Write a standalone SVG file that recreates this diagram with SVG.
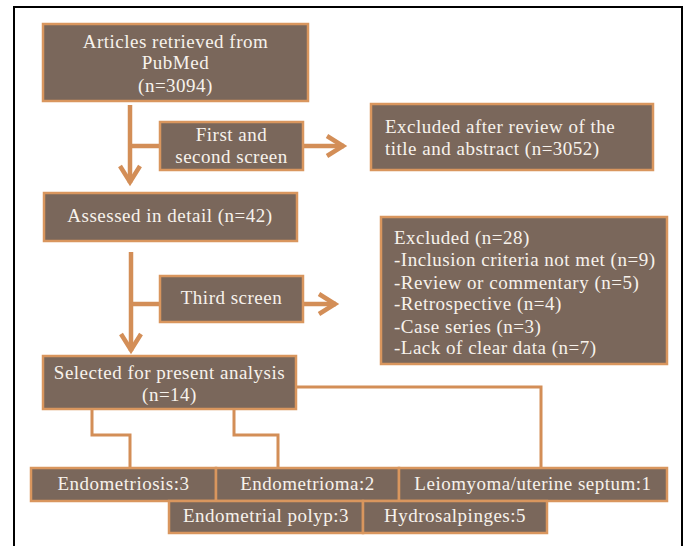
<svg xmlns="http://www.w3.org/2000/svg" width="684" height="546" viewBox="0 0 684 546">
<style>
.box{fill:#7A675B;stroke:#D9965E;stroke-width:2.5}
.t{font-family:"Liberation Serif","Times New Roman",serif;font-size:19px;letter-spacing:0.5px;fill:#F7F2EC}
.c{text-anchor:middle}
.ln{fill:none;stroke:#D38E57;stroke-width:4.5}
.thin{fill:none;stroke:#D38E57;stroke-width:3}
</style>
<defs>
<marker id="chev" viewBox="-20 -12 24 24" markerWidth="24" markerHeight="24" refX="0" refY="0" orient="auto" markerUnits="userSpaceOnUse">
<path d="M-17,-10 L-1,0 L-17,10" fill="none" stroke="#D38E57" stroke-width="4.5"/>
</marker>
</defs>
<rect width="684" height="546" fill="#fff"/>
<path d="M14,548 L14,7 L682,7 L682,548" fill="none" stroke="#000" stroke-width="2"/>
<g id="connectors">
<path class="ln" d="M130,105 L130,183" marker-end="url(#chev)"/>
<path class="ln" d="M130,146 L160,146"/>
<path class="ln" d="M303,146 L344,146" marker-end="url(#chev)"/>
<path class="ln" d="M131,252 L131,351" marker-end="url(#chev)"/>
<path class="ln" d="M131,304 L160,304"/>
<path class="ln" d="M303,304 L336,304" marker-end="url(#chev)"/>
<path class="thin" d="M296,387 L541,387 L541,468"/>
<path class="thin" d="M92,409 L92,435 L130,435 L130,468"/>
<path class="thin" d="M234,409 L234,435 L278,435 L278,468"/>
</g>
<g id="n1"><rect class="box" x="43" y="24" width="265" height="77"/>
<text class="t c" x="175.5" y="48">Articles retrieved from</text>
<text class="t c" x="175.5" y="69">PubMed</text>
<text class="t c" x="175.5" y="92">(n=3094)</text></g>
<g id="n2"><rect class="box" x="160" y="122" width="143" height="48"/>
<text class="t c" x="231.5" y="141">First and</text>
<text class="t c" x="231.5" y="163">second screen</text></g>
<g id="n3"><rect class="box" x="371" y="104" width="282" height="66"/>
<text class="t" x="385" y="133">Excluded after review of the</text>
<text class="t" x="385" y="155">title and abstract (n=3052)</text></g>
<g id="n4"><rect class="box" x="44" y="193" width="253" height="48"/>
<text class="t c" x="170" y="222">Assessed in detail (n=42)</text></g>
<g id="n5"><rect class="box" x="160" y="276" width="143" height="46"/>
<text class="t c" x="231.5" y="304">Third screen</text></g>
<g id="n6"><rect class="box" x="381" y="217" width="286" height="147"/>
<text class="t" x="394" y="244">Excluded (n=28)</text>
<text class="t" x="394" y="266">-Inclusion criteria not met (n=9)</text>
<text class="t" x="394" y="289">-Review or commentary (n=5)</text>
<text class="t" x="394" y="310">-Retrospective (n=4)</text>
<text class="t" x="394" y="333">-Case series (n=3)</text>
<text class="t" x="394" y="354">-Lack of clear data (n=7)</text></g>
<g id="n7"><rect class="box" x="43" y="356" width="253" height="53"/>
<text class="t c" x="169.5" y="379">Selected for present analysis</text>
<text class="t c" x="169.5" y="401">(n=14)</text></g>
<g id="n8"><rect class="box" x="31" y="468" width="185" height="33"/>
<text class="t c" x="123.5" y="490">Endometriosis:3</text></g>
<g id="n9"><rect class="box" x="216" y="468" width="183" height="33"/>
<text class="t c" x="307.5" y="490">Endometrioma:2</text></g>
<g id="n10"><rect class="box" x="399" y="468" width="268" height="33"/>
<text class="t c" x="533" y="490">Leiomyoma/uterine septum:1</text></g>
<g id="n11"><rect class="box" x="169" y="501" width="194" height="32"/>
<text class="t c" x="266" y="522">Endometrial polyp:3</text></g>
<g id="n12"><rect class="box" x="363" y="501" width="184" height="32"/>
<text class="t c" x="455" y="522">Hydrosalpinges:5</text></g>
</svg>
